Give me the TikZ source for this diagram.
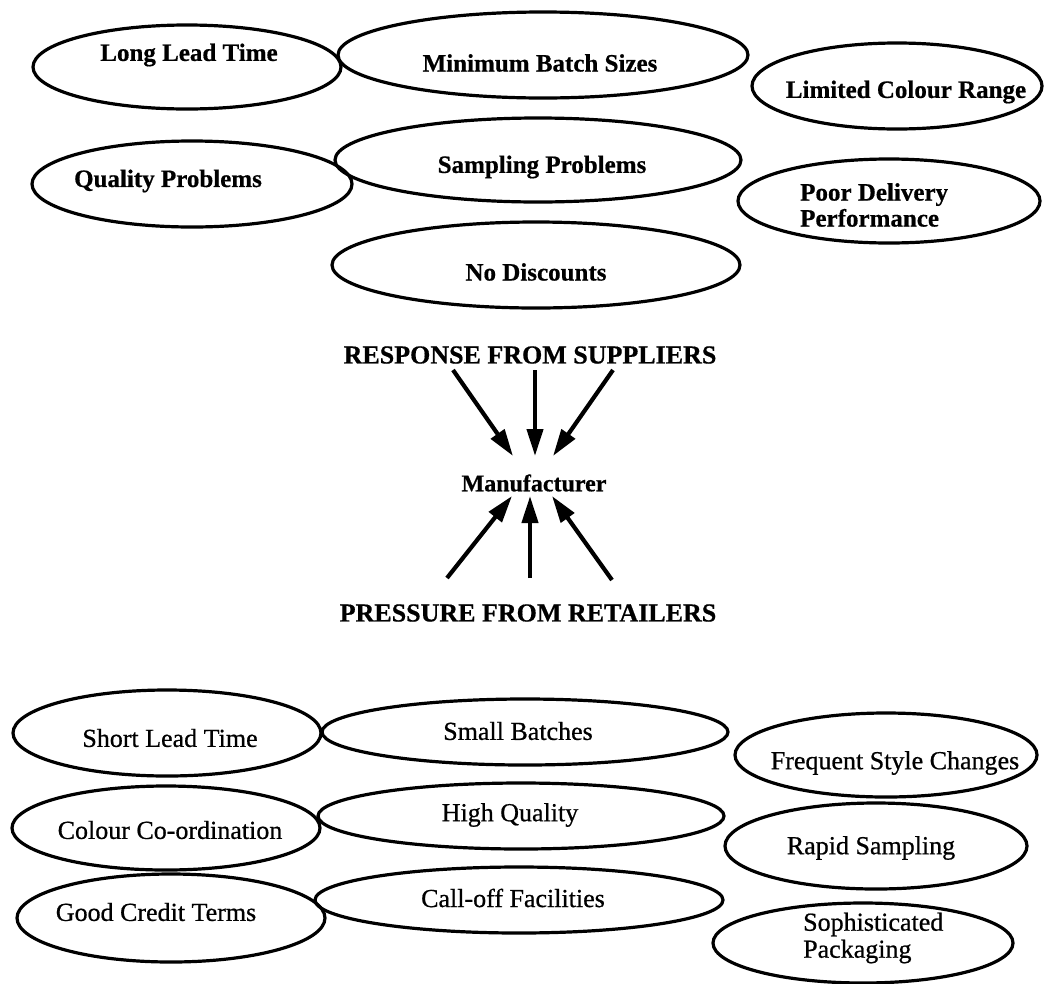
\documentclass[tikz,border=0pt]{standalone}
\usepackage{fontspec}
\setmainfont{Liberation Serif}
\newfontfamily\heavyfont[BoldFeatures={FakeBold=0.6}]{Liberation Serif}
\newfontfamily\plainfont[FakeBold=0.7]{Liberation Serif}
\usetikzlibrary{shapes.geometric,arrows.meta}
\begin{document}
\begin{tikzpicture}[x=1pt,y=-1pt,
  bubble/.style={draw, ellipse, line width=3.2pt, inner sep=0pt},
  toplabel/.style={font=\heavyfont\fontsize{25}{26}\selectfont\bfseries, inner sep=0pt},
  botlabel/.style={font=\plainfont\fontsize{26}{27}\selectfont, inner sep=0pt},
  heading/.style={font=\heavyfont\fontsize{26}{28}\selectfont\bfseries, inner sep=0pt},
  push/.style={line width=4.2pt, -{Triangle[length=27pt,width=16pt]}}]
\useasboundingbox (0,0) rectangle (1054,983);

% ---- responses from suppliers ----
\node[bubble, minimum width=308pt, minimum height=84pt] (llt) at (187,67) {};
\node[toplabel] (lltt) at (189,55) {Long Lead Time};
\node[bubble, minimum width=410pt, minimum height=86pt] (mbs) at (543,55) {};
\node[toplabel] (mbst) at (540,63) {Minimum Batch Sizes};
\node[bubble, minimum width=290pt, minimum height=86pt] (lcr) at (897,86) {};
\node[toplabel] (lcrt) at (906,92) {Limited Colour Range};
\node[bubble, minimum width=320pt, minimum height=86pt] (qp) at (192,184) {};
\node[toplabel] (qpt) at (168,181) {Quality Problems};
\node[bubble, minimum width=406pt, minimum height=84pt] (sp) at (538,160) {};
\node[toplabel] (spt) at (542,167) {Sampling Problems};
\node[bubble, minimum width=302pt, minimum height=84pt] (pdp) at (889,201) {};
\node[toplabel, anchor=west, align=left] (pdpt) at (800,205) {Poor Delivery\\Performance};
\node[bubble, minimum width=408pt, minimum height=86pt] (nd) at (536,265) {};
\node[toplabel] (ndt) at (536,272) {No Discounts};

% ---- centre ----
\node[heading] (resp) at (530,355) {RESPONSE FROM SUPPLIERS};
\node[toplabel, font=\heavyfont\fontsize{24}{26}\selectfont\bfseries] (man) at (534,483) {Manufacturer};
\node[heading] (pres) at (528,613) {PRESSURE FROM RETAILERS};

\coordinate (r1) at (453,370);
\coordinate (r2) at (535,370);
\coordinate (r3) at (613,370);
\coordinate (m1) at (513,456);
\coordinate (m2) at (535,456);
\coordinate (m3) at (553,456);
\coordinate (p1) at (447,578);
\coordinate (p2) at (530,578);
\coordinate (p3) at (612,580);
\coordinate (n1) at (512,496);
\coordinate (n2) at (530,496);
\coordinate (n3) at (552,496);
\draw[push] (r1) -- (m1);
\draw[push] (r2) -- (m2);
\draw[push] (r3) -- (m3);
\draw[push] (p1) -- (n1);
\draw[push] (p2) -- (n2);
\draw[push] (p3) -- (n3);

% ---- pressures from retailers ----
\node[bubble, minimum width=308pt, minimum height=86pt] (slt) at (167,733) {};
\node[botlabel] (sltt) at (170,738) {Short Lead Time};
\node[bubble, minimum width=406pt, minimum height=66pt] (sb) at (525,732) {};
\node[botlabel] (sbt) at (518,731) {Small Batches};
\node[bubble, minimum width=302pt, minimum height=84pt] (fsc) at (886,755) {};
\node[botlabel] (fsct) at (895,763) {Frequent Style Changes};
\node[bubble, minimum width=308pt, minimum height=84pt] (cc) at (166,828) {};
\node[botlabel] (cct) at (170,830) {Colour Co-ordination};
\node[bubble, minimum width=406pt, minimum height=66pt] (hq) at (521,816) {};
\node[botlabel] (hqt) at (510,815) {High Quality};
\node[bubble, minimum width=302pt, minimum height=86pt] (rs) at (876,846) {};
\node[botlabel] (rst) at (871,848) {Rapid Sampling};
\node[bubble, minimum width=308pt, minimum height=88pt] (gct) at (171,918) {};
\node[botlabel] (gctt) at (156,912) {Good Credit Terms};
\node[bubble, minimum width=408pt, minimum height=66pt] (cof) at (519,900) {};
\node[botlabel] (coft) at (513,898) {Call-off Facilities};
\node[bubble, minimum width=300pt, minimum height=80pt] (spk) at (863,943) {};
\node[botlabel, anchor=west, align=left] (spkt) at (803,938) {Sophisticated\\Packaging};
\end{tikzpicture}
\end{document}
